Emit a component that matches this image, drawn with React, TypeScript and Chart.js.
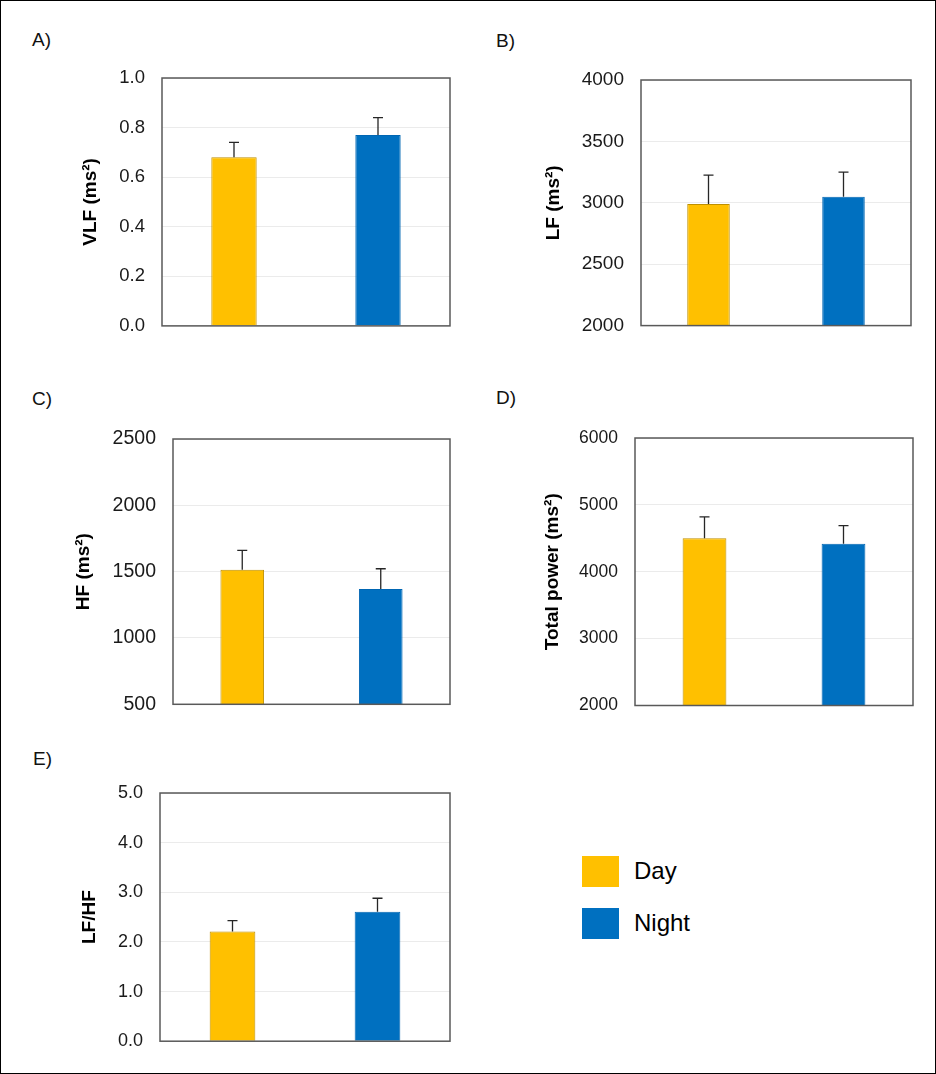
import React, { useEffect, useRef } from "react";
import { Chart, registerables } from "chart.js";

Chart.register(...registerables);

// ---------- data ----------
const categories = ["Day", "Night"];

const vlfMean = [0.68, 0.77];
const vlfSem = [0.06, 0.07];
const lfMean = [2990, 3050];
const lfSem = [235, 200];
const hfMean = [1515, 1370];
const hfSem = [145, 152];
const tpMean = [4500, 4420];
const tpSem = [320, 270];
const ratioMean = [2.21, 2.61];
const ratioSem = [0.22, 0.27];

const panelLetters = ["A)", "B)", "C)", "D)", "E)"];
const yTitles = ["VLF (ms²)", "LF (ms²)", "HF (ms²)", "Total power (ms²)", "LF/HF"];
const yMins = [0, 2000, 500, 2000, 0];
const yMaxs = [1, 4000, 2500, 6000, 5];
const ySteps = [0.2, 500, 500, 1000, 1];
const yDecimals = [1, 0, 0, 0, 1];
const means = [vlfMean, lfMean, hfMean, tpMean, ratioMean];
const sems = [vlfSem, lfSem, hfSem, tpSem, ratioSem];

// ---------- styles / layout ----------
const barColors = ["#FFC000", "#0070C0"];
const barBorders = ["#BF9000", "#0066B3"];
const FONT = "'Liberation Sans', Arial, sans-serif";

// plot rectangles: left, top, right, bottom (page coords)
const plotRects = [
  [161, 77, 449, 328],
  [640, 79, 910, 328],
  [172, 438, 449, 707],
  [634, 437, 912, 707],
  [159, 792, 449, 1043],
];
const titleXs = [90, 553, 83, 552, 89];
const tickSizes = [18.5, 19, 19.5, 17.5, 18];
const letterPos = [
  [32, 39],
  [496, 40],
  [32, 398],
  [496, 397],
  [33, 758],
];

function Panel({ idx }: { idx: number }) {
  const ref = useRef<HTMLCanvasElement | null>(null);
  const [L, T, R, B] = plotRects[idx];
  const cLeft = idx % 2 === 0 ? 40 : 500;
  const cTop = T - 30;
  const cW = R + 15 - cLeft;
  const cH = B + 25 - cTop;

  useEffect(() => {
    if (!ref.current) return;
    const mean = means[idx];
    const sem = sems[idx];
    const overlay = {
      id: "overlay" + idx,
      afterDatasetsDraw(chart: any) {
        const ctx = chart.ctx;
        const area = chart.chartArea;
        const yScale = chart.scales.y;
        ctx.save();
        ctx.strokeStyle = "#595959";
        ctx.lineWidth = 1.5;
        ctx.strokeRect(area.left, area.top, area.right - area.left, area.bottom - area.top);
        const meta = chart.getDatasetMeta(0);
        ctx.strokeStyle = "#262626";
        ctx.lineWidth = 1.3;
        meta.data.forEach((el: any, i: number) => {
          const x = el.x;
          const y0 = yScale.getPixelForValue(mean[i]);
          const y1 = yScale.getPixelForValue(mean[i] + sem[i]);
          ctx.beginPath();
          ctx.moveTo(x, y0);
          ctx.lineTo(x, y1);
          ctx.moveTo(x - 5, y1);
          ctx.lineTo(x + 5, y1);
          ctx.stroke();
        });
        ctx.fillStyle = "#000";
        ctx.font = "bold 19px " + FONT;
        ctx.textAlign = "center";
        ctx.textBaseline = "middle";
        ctx.translate(titleXs[idx] - cLeft, (area.top + area.bottom) / 2);
        ctx.rotate(-Math.PI / 2);
        ctx.fillText(yTitles[idx], 0, 0);
        ctx.restore();
      },
    };
    const chart = new Chart(ref.current, {
      type: "bar",
      data: {
        labels: categories,
        datasets: [
          {
            data: mean,
            backgroundColor: barColors,
            borderColor: barBorders,
            borderWidth: 1,
            barPercentage: 0.315,
            categoryPercentage: 1,
          },
        ],
      },
      options: {
        animation: false,
        responsive: false,
        devicePixelRatio: 1,
        layout: {
          padding: { top: T - cTop, right: cLeft + cW - R, bottom: cTop + cH - B, left: 0 },
        },
        plugins: { legend: { display: false }, tooltip: { enabled: false } },
        scales: {
          x: { display: false },
          y: {
            min: yMins[idx],
            max: yMaxs[idx],
            afterFit(scale: any) {
              scale.width = L - cLeft;
            },
            border: { display: false },
            grid: { color: "#ebebeb", lineWidth: 1, drawTicks: false },
            ticks: {
              stepSize: ySteps[idx],
              padding: 17,
              color: "#1a1a1a",
              font: { family: FONT, size: tickSizes[idx] },
              callback: (v: any) => Number(v).toFixed(yDecimals[idx]),
            },
          },
        },
      },
      plugins: [overlay],
    } as any);
    return () => chart.destroy();
  }, [idx]);

  return (
    <canvas
      ref={ref}
      width={cW}
      height={cH}
      style={{ position: "absolute", left: cLeft, top: cTop, width: cW, height: cH }}
    />
  );
}

export default function App() {
  return (
    <div
      style={{
        position: "absolute",
        left: 0,
        top: 0,
        width: 936,
        height: 1074,
        boxSizing: "border-box",
        border: "1px solid #000",
        background: "#fff",
        overflow: "hidden",
        fontFamily: FONT,
      }}
    >
      {panelLetters.map((t, i) => (
        <div
          key={t}
          style={{
            position: "absolute",
            left: letterPos[i][0] - 1,
            top: letterPos[i][1] - 10,
            fontSize: 19,
            lineHeight: "19px",
            color: "#111",
          }}
        >
          {t}
        </div>
      ))}
      {[0, 1, 2, 3, 4].map((i) => (
        <Panel key={i} idx={i} />
      ))}
      {categories.map((c, i) => (
        <React.Fragment key={c}>
          <div
            style={{
              position: "absolute",
              left: 581,
              top: 855 + i * 52,
              width: 37,
              height: 31,
              background: barColors[i],
            }}
          />
          <div
            style={{
              position: "absolute",
              left: 633,
              top: 858 + i * 52,
              fontSize: 24,
              lineHeight: "24px",
              color: "#000",
            }}
          >
            {c}
          </div>
        </React.Fragment>
      ))}
    </div>
  );
}
